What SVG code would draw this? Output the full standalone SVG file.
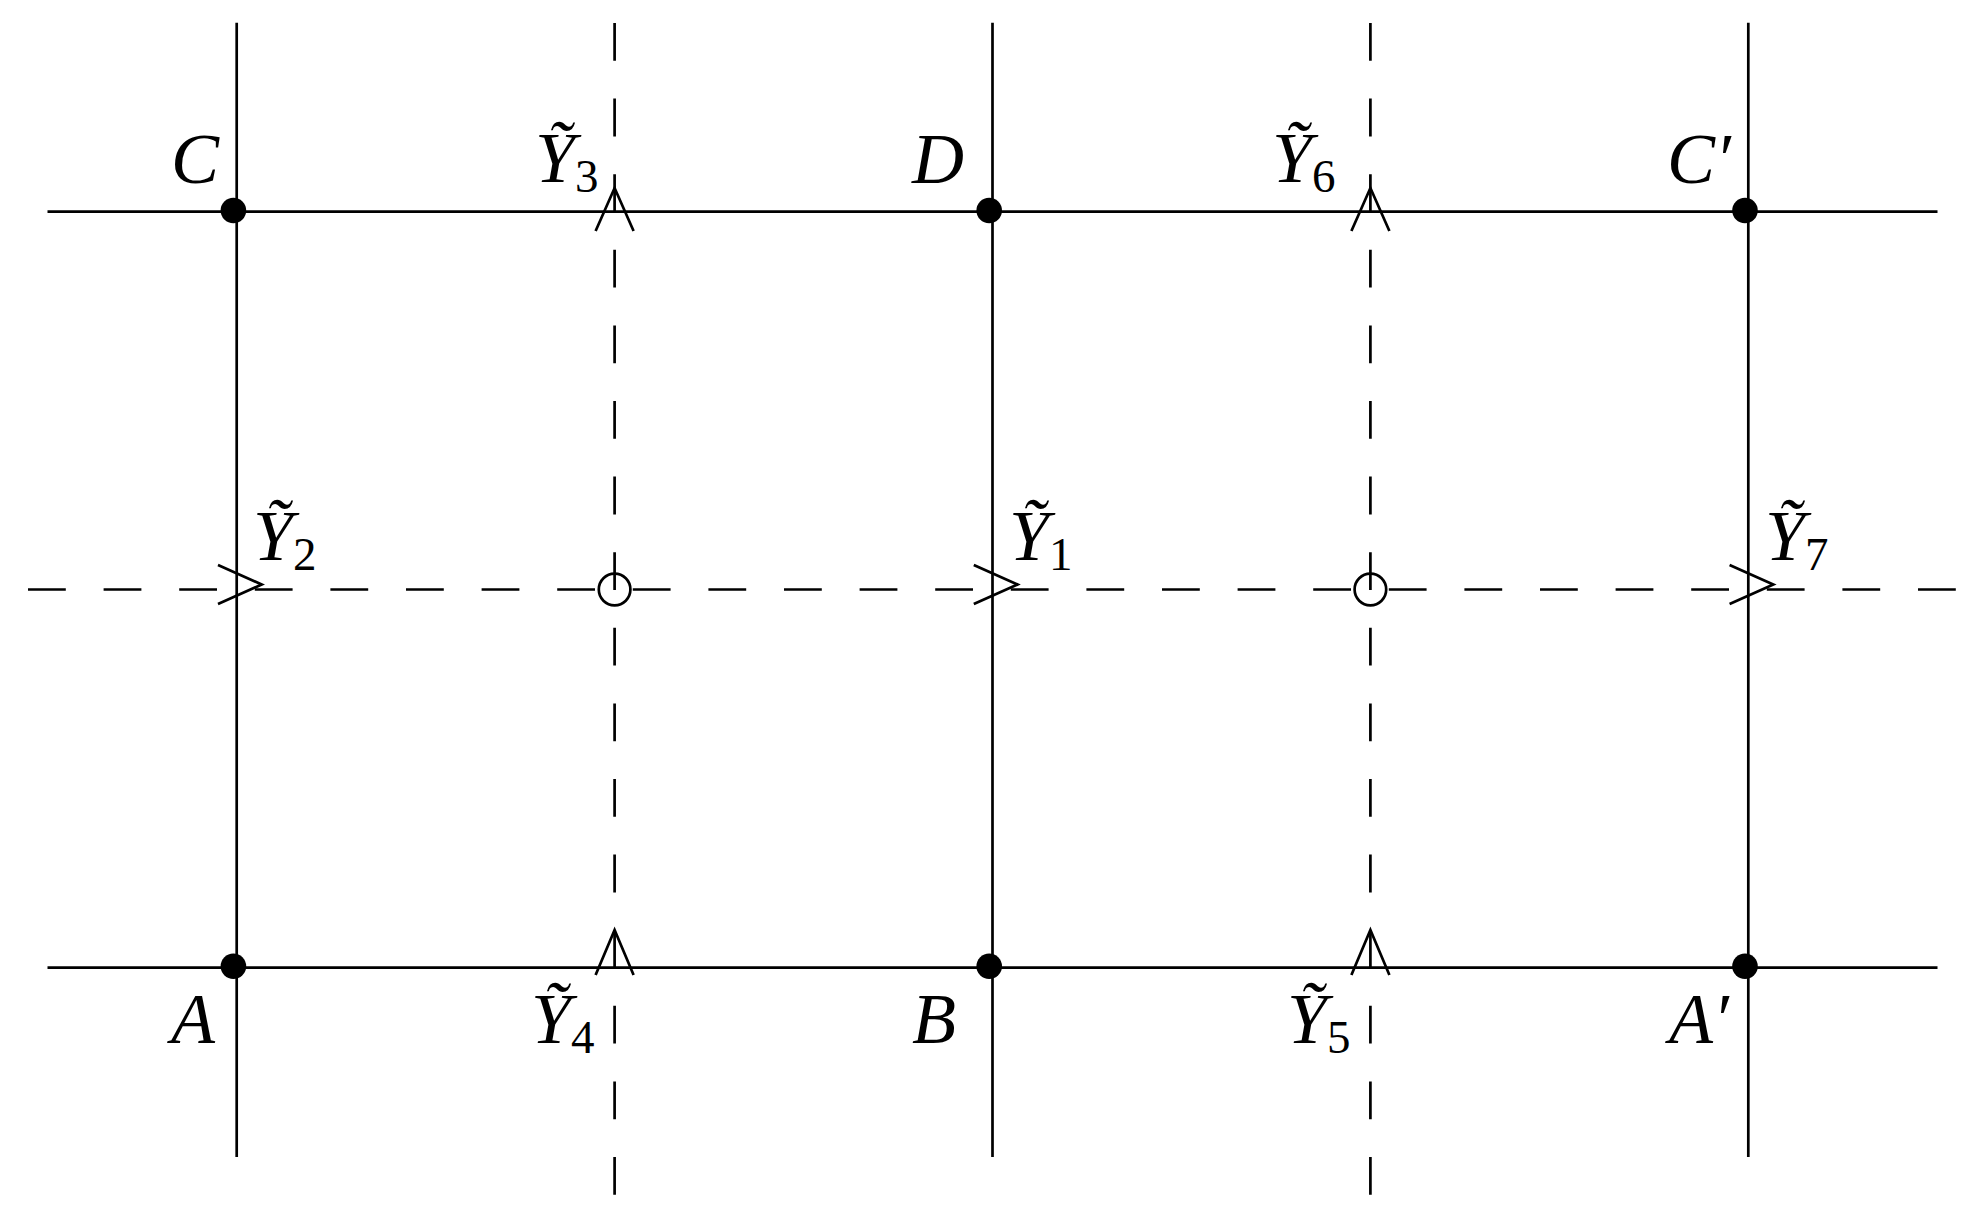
<svg xmlns="http://www.w3.org/2000/svg" width="1986" height="1222" viewBox="0 0 1986 1222">
<style>
.ln{stroke:#000;stroke-width:2.7;fill:none}
.dash{stroke:#000;stroke-width:2.7;fill:none;stroke-dasharray:37.8 37.8}
.arr{stroke:#000;stroke-width:2.7;fill:none;stroke-linejoin:miter}
.dot{fill:#000}
.oc{fill:none;stroke:#000;stroke-width:2.7}
.lab{font-family:"Liberation Serif","DejaVu Serif",serif;font-style:italic;font-size:72px;fill:#000}
.sub{font-family:"Liberation Serif","DejaVu Serif",serif;font-style:normal;font-size:47px}
</style>
<rect width="1986" height="1222" fill="#fff"/>
<g id="connectors">
<line class="ln" x1="236.7" y1="22.7" x2="236.7" y2="1157"/>
<line class="ln" x1="992.5" y1="22.7" x2="992.5" y2="1157"/>
<line class="ln" x1="1748.3" y1="22.7" x2="1748.3" y2="1157"/>
<line class="ln" x1="47.5" y1="211.7" x2="1937.5" y2="211.7"/>
<line class="ln" x1="47.5" y1="967.6" x2="1937.5" y2="967.6"/>
<line class="dash" x1="614.6" y1="23" x2="614.6" y2="1195"/>
<line class="dash" x1="1370.4" y1="23" x2="1370.4" y2="1195"/>
<line class="dash" x1="28" y1="589.5" x2="1957" y2="589.5"/>
<path class="arr" d="M218,565 L261.7,584.5 L218,604"/>
<path class="arr" d="M973.8,565 L1017.5,584.5 L973.8,604"/>
<path class="arr" d="M1729.6,565 L1773.3,584.5 L1729.6,604"/>
<path class="arr" d="M595.6,231 L614.6,188 L633.6,231"/>
<path class="arr" d="M1351.4,231 L1370.4,188 L1389.4,231"/>
<path class="arr" d="M595.6,975 L614.6,930 L633.6,975"/>
<path class="arr" d="M1351.4,975 L1370.4,930 L1389.4,975"/>
</g>
<g id="C"><circle class="dot" cx="233.4" cy="210.5" r="12.8"/><text class="lab" x="171" y="183">C</text></g>
<g id="D"><circle class="dot" cx="989.2" cy="210.5" r="12.8"/><text class="lab" x="912" y="183">D</text></g>
<g id="Cp"><circle class="dot" cx="1745" cy="210.5" r="12.8"/><text class="lab" x="1667" y="183">C′</text></g>
<g id="A"><circle class="dot" cx="233.4" cy="966.2" r="12.8"/><text class="lab" x="171" y="1043">A</text></g>
<g id="B"><circle class="dot" cx="989.2" cy="966.2" r="12.8"/><text class="lab" x="912" y="1043">B</text></g>
<g id="Ap"><circle class="dot" cx="1745" cy="966.2" r="12.8"/><text class="lab" x="1669" y="1043">A′</text></g>
<g id="O1"><circle class="oc" cx="614.6" cy="589.5" r="15.8"/></g>
<g id="O2"><circle class="oc" cx="1370.4" cy="589.5" r="15.8"/></g>
<g id="Y1"><text class="lab" x="1009" y="560">Ỹ<tspan class="sub" dy="10">1</tspan></text></g>
<g id="Y2"><text class="lab" x="253" y="560">Ỹ<tspan class="sub" dy="10">2</tspan></text></g>
<g id="Y7"><text class="lab" x="1765" y="560">Ỹ<tspan class="sub" dy="10">7</tspan></text></g>
<g id="Y3"><text class="lab" x="535" y="182">Ỹ<tspan class="sub" dy="10">3</tspan></text></g>
<g id="Y6"><text class="lab" x="1272" y="182">Ỹ<tspan class="sub" dy="10">6</tspan></text></g>
<g id="Y4"><text class="lab" x="531" y="1043">Ỹ<tspan class="sub" dy="10">4</tspan></text></g>
<g id="Y5"><text class="lab" x="1287" y="1043">Ỹ<tspan class="sub" dy="10">5</tspan></text></g>
</svg>
